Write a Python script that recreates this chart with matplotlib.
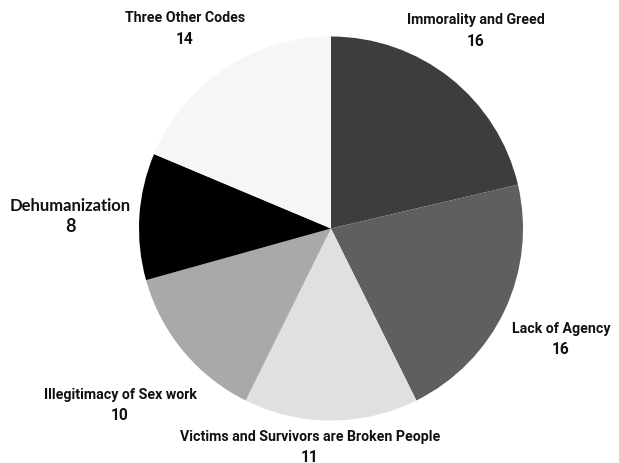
import matplotlib.pyplot as plt

labels = ["Immorality and Greed", "Lack of Agency",
          "Victims and Survivors are Broken People",
          "Illegitimacy of Sex work", "Dehumanization", "Three Other Codes"]
counts = [16, 16, 11, 10, 8, 14]
colors = ["#3d3d3d", "#5f5f5f", "#e0e0e0", "#a9a9a9", "#000000", "#f6f6f6"]

# label anchor (pixel position of centre of name line) and font per label
label_pos = [(476, 20), (561, 329), (310, 437), (120, 395), (70, 206), (185, 18)]
label_font = ["Roboto"] * 4 + ["Lato", "Roboto"]
label_size = [10.2] * 4 + [12, 10.2]

W, H = 619, 464
fig = plt.figure(figsize=(W / 100, H / 100), dpi=100)
ax = fig.add_axes([0, 0, 1, 1])

ax.pie(counts, colors=colors, startangle=90, counterclock=False,
       center=(331, H - 229.5), radius=192, frame=True)
ax.set_xlim(0, W)
ax.set_ylim(0, H)
ax.set_aspect("equal")
ax.axis("off")

for name, n, (px, py), fam, fs in zip(labels, counts, label_pos, label_font, label_size):
    ax.text(px, H - py, name, ha="center", va="center", fontsize=fs,
            fontweight="bold", family=fam, color="#111111")
    ax.text(px, H - py - 21, str(n), ha="center", va="center", fontsize=fs + 1,
            fontweight="bold", family=fam, color="#111111")

fig.savefig("out.png", dpi=100)
